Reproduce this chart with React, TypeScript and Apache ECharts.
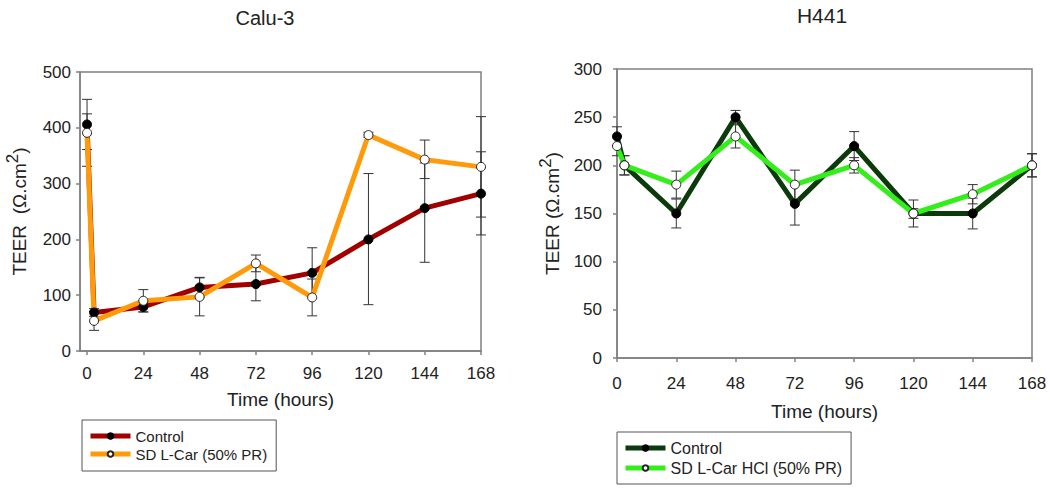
import React, { useEffect, useRef } from "react";
import * as echarts from "echarts";

const times = [0, 3, 24, 48, 72, 96, 120, 144, 168];
const xTicks = [0, 24, 48, 72, 96, 120, 144, 168];

const caluControl = [406, 69, 79, 114, 120, 140, 200, 256, 282];
const caluControlLow = [361, 62, 70, 96, 90, 95, 83, 159, 208];
const caluControlHigh = [451, 76, 88, 132, 150, 185, 318, 337, 357];
const caluSD = [391, 54, 90, 97, 157, 96, 387, 343, 330];
const caluSDLow = [331, 37, 70, 63, 142, 63, 383, 309, 240];
const caluSDHigh = [425, 71, 110, 131, 172, 129, 392, 378, 420];

const h441Control = [230, 200, 150, 250, 160, 220, 150, 150, 200];
const h441ControlLow = [220, 190, 135, 243, 138, 205, 136, 134, 188];
const h441ControlHigh = [240, 210, 165, 257, 182, 235, 164, 166, 212];
const h441SD = [220, 200, 180, 230, 180, 200, 150, 170, 200];
const h441SDLow = [210, 190, 166, 218, 165, 192, 145, 160, 188];
const h441SDHigh = [230, 210, 194, 242, 195, 208, 155, 180, 212];

const FONT = "'Liberation Sans', Arial, sans-serif";
const AXIS_GRAY = "#808080";
const TEXT = "#222";

const legendLabels: Record<string, string> = {
  caluControl: "Control",
  caluSD: "SD L-Car (50% PR)",
  h441Control: "Control",
  h441SD: "SD L-Car HCl (50% PR)",
};

function pts(ys: number[]) {
  return times.map((t, i) => [t, ys[i]]);
}
function errs(lo: number[], hi: number[]) {
  return times.map((t, i) => [t, lo[i], hi[i]]);
}

const errorRender = (params: any, api: any) => {
  const x = api.value(0);
  const p1 = api.coord([x, api.value(1)]);
  const p2 = api.coord([x, api.value(2)]);
  const cap = 5;
  const style = { stroke: "#333", lineWidth: 1 };
  return {
    type: "group",
    children: [
      { type: "line", shape: { x1: p1[0], y1: p1[1], x2: p2[0], y2: p2[1] }, style },
      { type: "line", shape: { x1: p1[0] - cap, y1: p1[1], x2: p1[0] + cap, y2: p1[1] }, style },
      { type: "line", shape: { x1: p2[0] - cap, y1: p2[1], x2: p2[0] + cap, y2: p2[1] }, style },
    ],
  };
};

function xAxisCfg(gridIndex: number, min: number, margin: number, nameGap: number) {
  return {
    gridIndex,
    type: "value",
    min,
    max: 168,
    axisLine: { show: true, onZero: false, lineStyle: { color: AXIS_GRAY, width: 1.5 } },
    axisTick: { show: true, customValues: xTicks, length: 4, lineStyle: { color: AXIS_GRAY, width: 1.5 } },
    axisLabel: { customValues: xTicks, margin, fontSize: 17, color: TEXT, fontFamily: FONT },
    splitLine: { show: false },
    name: "Time (hours)",
    nameLocation: "middle",
    nameGap,
    nameTextStyle: { fontSize: 19, color: TEXT, fontFamily: FONT },
  };
}

function yAxisCfg(gridIndex: number, max: number, interval: number, margin: number, nameGap: number, spaces: string) {
  return {
    gridIndex,
    type: "value",
    min: 0,
    max,
    interval,
    axisLine: { show: true, onZero: false, lineStyle: { color: AXIS_GRAY, width: 1.5 } },
    axisTick: { show: true, length: 4, lineStyle: { color: AXIS_GRAY, width: 1.5 } },
    axisLabel: { margin, fontSize: 17, color: TEXT, fontFamily: FONT },
    splitLine: { show: false },
    name: "{a|TEER" + spaces + "(Ω.cm}{b|2}{a|)}",
    nameLocation: "middle",
    nameGap,
    nameTextStyle: {
      color: TEXT,
      fontFamily: FONT,
      rich: {
        a: { fontSize: 19, lineHeight: 30, color: TEXT, fontFamily: FONT },
        b: { fontSize: 17, lineHeight: 14, verticalAlign: "top", color: TEXT, fontFamily: FONT },
      },
    },
  };
}

function lineSeries(name: string, idx: number, data: number[], color: string, filled: boolean) {
  return {
    name,
    type: "line",
    xAxisIndex: idx,
    yAxisIndex: idx,
    data: pts(data),
    z: 3,
    symbol: "circle",
    symbolSize: 9,
    lineStyle: { color, width: 5 },
    itemStyle: filled
      ? { color: "#000", borderColor: "#000", borderWidth: 1 }
      : { color: "#fff", borderColor: "#222", borderWidth: 1 },
  };
}

function errSeries(idx: number, lo: number[], hi: number[]) {
  return {
    type: "custom",
    xAxisIndex: idx,
    yAxisIndex: idx,
    z: 2,
    renderItem: errorRender,
    encode: { x: 0, y: [1, 2] },
    data: errs(lo, hi),
    silent: true,
  };
}

export default function App() {
  const ref = useRef<HTMLDivElement>(null);
  useEffect(() => {
    if (!ref.current) return;
    const chart = echarts.init(ref.current, undefined, { renderer: "svg" });
    chart.setOption({
      animation: false,
      backgroundColor: "#fff",
      textStyle: { fontFamily: FONT },
      grid: [
        { left: 80, top: 72, width: 401, height: 279, show: true, borderColor: AXIS_GRAY, borderWidth: 1.5 },
        { left: 617, top: 69, width: 415, height: 289, show: true, borderColor: AXIS_GRAY, borderWidth: 1.5 },
      ],
      xAxis: [xAxisCfg(0, -3, 14, 39), xAxisCfg(1, 0, 17, 44)],
      yAxis: [yAxisCfg(0, 500, 100, 9, 46, "  "), yAxisCfg(1, 300, 50, 15, 50, " ")],
      legend: [
        {
          data: ["caluControl", "caluSD"],
          orient: "vertical",
          left: 82,
          top: 420,
          padding: [7, 9, 8, 6],
          itemWidth: 40,
          itemHeight: 7,
          itemGap: 0,
          borderColor: "#555",
          borderWidth: 1,
          selectedMode: false,
          lineStyle: { width: 5 },
          formatter: (n: string) => legendLabels[n],
          textStyle: { fontSize: 15, lineHeight: 18, color: TEXT, fontFamily: FONT },
        },
        {
          data: ["h441Control", "h441SD"],
          orient: "vertical",
          left: 617,
          top: 432,
          padding: [6, 9, 6, 6],
          itemWidth: 40,
          itemHeight: 7,
          itemGap: 0,
          borderColor: "#555",
          borderWidth: 1,
          selectedMode: false,
          lineStyle: { width: 5 },
          formatter: (n: string) => legendLabels[n],
          textStyle: { fontSize: 16, lineHeight: 20, color: TEXT, fontFamily: FONT },
        },
      ],
      graphic: [
        {
          type: "text",
          x: 265,
          y: 18,
          style: { text: "Calu-3", fontSize: 20, fontFamily: FONT, fill: TEXT, textAlign: "center", textVerticalAlign: "middle" },
        },
        {
          type: "text",
          x: 822,
          y: 15,
          style: { text: "H441", fontSize: 21, fontFamily: FONT, fill: TEXT, textAlign: "center", textVerticalAlign: "middle" },
        },
      ],
      series: [
        errSeries(0, caluControlLow, caluControlHigh),
        errSeries(0, caluSDLow, caluSDHigh),
        lineSeries("caluControl", 0, caluControl, "#a00000", true),
        lineSeries("caluSD", 0, caluSD, "#ff9a0a", false),
        errSeries(1, h441ControlLow, h441ControlHigh),
        errSeries(1, h441SDLow, h441SDHigh),
        lineSeries("h441Control", 1, h441Control, "#0b3b0b", true),
        lineSeries("h441SD", 1, h441SD, "#33ee1a", false),
      ],
    });
    return () => chart.dispose();
  }, []);
  return (
    <div
      ref={ref}
      style={{ position: "fixed", left: 0, top: 0, width: 1050, height: 488, background: "#fff" }}
    />
  );
}
